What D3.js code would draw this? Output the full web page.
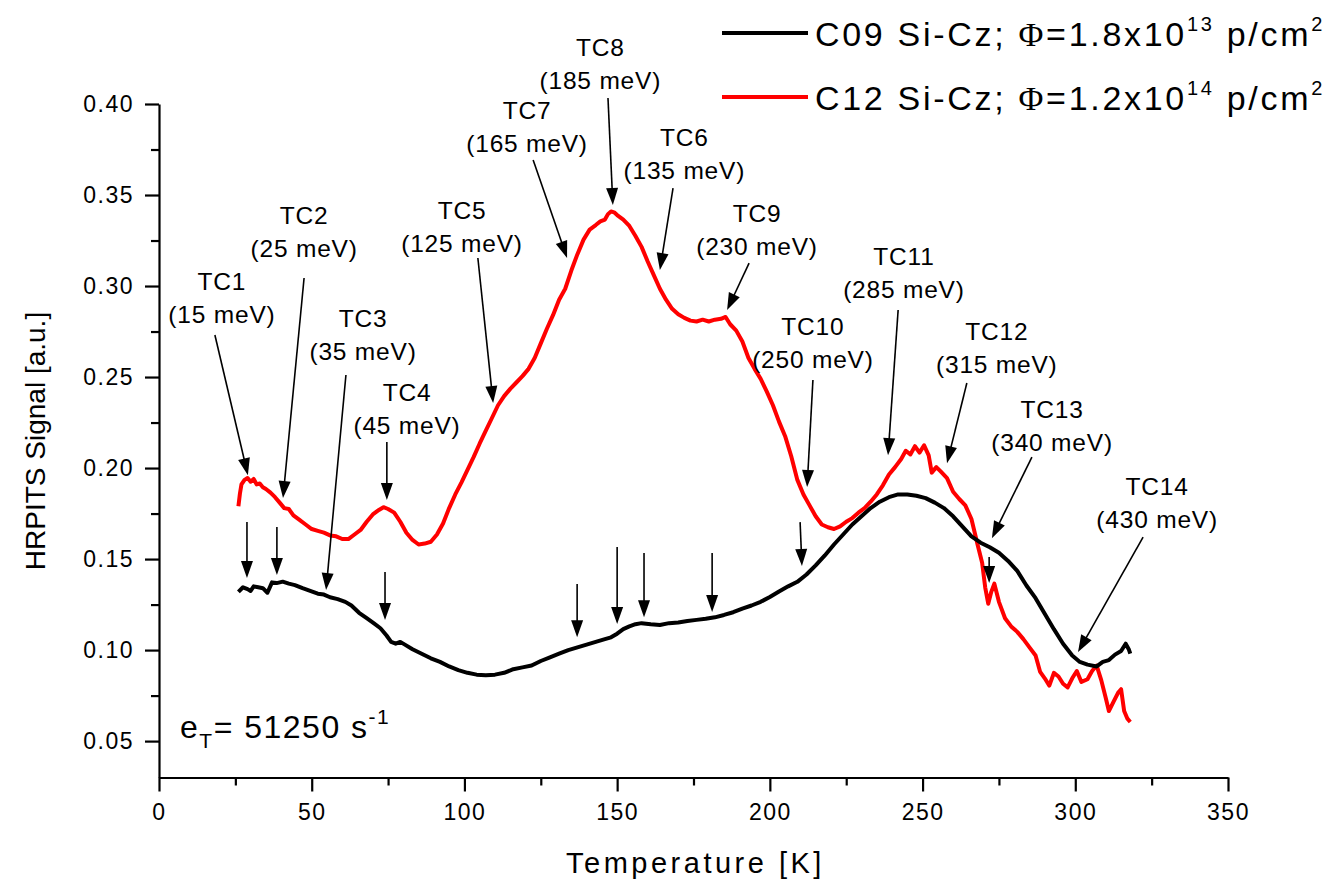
<!DOCTYPE html>
<meta charset="utf-8">
<title>HRPITS spectra</title>

<style>
body{
	margin: 0;
	background: white;
}
text{
	font-family: Arial, "Liberation Sans", sans-serif;
	fill: black;
}
</style>

<body>

<script src="https://d3js.org/d3.v7.min.js"></script>

<script>

// C09 Si-Cz, 1.8x10^13 p/cm2 (black)
var c09Temp = [26,27.5,29,30,31,32.5,34,35.5,37,38.5,40.5,42.5,44.5,47,49.5,52,54,56,58.5,61,63,65.5,68,70.5,72.5,74.5,76,77.5,79,80.5,83,86,89,92,95,98,101,104,107,110,113,116,119,122,125,128,131,134,137,140,143,146,148,150,152,154,156,158,161,164,167,170,173,176,179,182,185,188,191,194,197,200,203,206,209,212,215,218,221,224,227,230,233,236,239,242,245,248,251,254,257,260,263,266,269,272,275,278,281,284,287,290,293,296,299,301.5,304,307,309,311,313,315,316.5,317.5,318];
var c09Signal = [.132,.1345,.1335,.1325,.135,.1345,.134,.1315,.1372,.1368,.1376,.1365,.1357,.134,.1325,.131,.1305,.129,.128,.1265,.1245,.1205,.1175,.1145,.112,.108,.1045,.1035,.1045,.103,.1005,.098,.0955,.0935,.091,.089,.0875,.0865,.0862,.0865,.0875,.0895,.0905,.0915,.094,.096,.098,.1,.1015,.103,.1045,.106,.107,.109,.1115,.113,.1142,.1148,.1142,.1138,.1148,.1152,.116,.1166,.1172,.118,.1193,.1208,.1228,.1245,.1265,.1292,.1322,.135,.1375,.1415,.1465,.152,.158,.1635,.169,.1735,.178,.1815,.184,.1855,.1855,.1848,.1835,.181,.178,.1735,.168,.1625,.159,.1565,.1535,.149,.1435,.1355,.1285,.12,.1115,.1035,.097,.0935,.092,.091,.0935,.0945,.0975,.0995,.1035,.1005,.098];

// C12 Si-Cz, 1.2x10^14 p/cm2 (red)
var c12Temp = [26,26.5,27,28,29,30,31,32,33,34,35,36.5,38,39.5,41,42.5,44,46,48,50,52,54,56,58,60,62,64,66,68,70,72,73.5,75,77,79,81,83,85,87,89,91,93,95,97,99,101,103,105,107,109,111,113,115,117,119,121,123,125,127,129,131,133,135,137,139,141,143,144.5,146,147,148,149,150,152,154,156,158,160,162,164,166,168,170,172,174,176,178,180,182,184,185.5,187,189,191,193,195,197,199,201,203,205,207,209,211,213,215,217,219,221,223,225,227,229,231,233,235,237,239,241,243,244.5,246,247.5,249,250.5,252,253,254.5,256,258,260,262,264,266,268,269.5,270.5,271.5,272.5,273.5,275,277,279,281,283,285,287,288.5,290,291.5,293,294.5,296,297.5,299,300.5,302,304,305.5,307,308.5,310,311,312.5,314,315,316,317,318];
var c12Signal = [.179,.186,.191,.1935,.1945,.1925,.194,.191,.1915,.1895,.1885,.1865,.184,.181,.178,.1775,.174,.1715,.169,.1665,.1655,.1645,.163,.1625,.161,.161,.1635,.166,.1705,.1745,.177,.1785,.1775,.1755,.1705,.1645,.1605,.158,.1585,.1595,.1635,.1695,.178,.1855,.192,.199,.206,.2135,.2205,.2275,.2345,.2395,.2435,.247,.2505,.2545,.2605,.2685,.2765,.284,.2925,.2985,.3085,.3175,.3255,.331,.3335,.3355,.3365,.3395,.341,.3405,.339,.3365,.333,.3275,.3215,.3135,.306,.2985,.2925,.2875,.2845,.2825,.281,.2805,.2815,.2805,.2815,.282,.283,.279,.2755,.2695,.2605,.2545,.249,.242,.2345,.2255,.2175,.2065,.1935,.1855,.1795,.1735,.169,.1675,.1665,.168,.1705,.1725,.1755,.178,.1815,.1855,.1905,.1965,.2005,.205,.2095,.2075,.212,.2085,.2125,.207,.1975,.2005,.198,.1945,.187,.183,.1795,.172,.158,.148,.1345,.1255,.132,.1365,.1265,.1175,.113,.11,.106,.1015,.097,.088,.0845,.0805,.0875,.0855,.0815,.0795,.0845,.0885,.0825,.084,.0885,.0915,.0835,.0735,.0665,.0715,.0765,.0785,.0665,.0625,.0605];

// trap centre labels: name, activation energy, label anchor (T, signal)
var trapNames = ['TC1','TC2','TC3','TC4','TC5','TC7','TC8','TC6','TC9','TC10','TC11','TC12','TC13','TC14'];
var trapEnergies = ['(15 meV)','(25 meV)','(35 meV)','(45 meV)','(125 meV)','(165 meV)','(185 meV)','(135 meV)','(230 meV)','(250 meV)','(285 meV)','(315 meV)','(340 meV)','(430 meV)'];
var trapLabelT = [20.6,47.5,66.8,81.2,99.2,120.5,144.5,172,195.8,214.1,243.9,274.3,292.4,326.8];
var trapLabelS = [.3027,.339,.2824,.2418,.3418,.3967,.4313,.3819,.3401,.278,.3165,.2753,.2324,.1901];

// arrows: start (T, signal) -> tip (T, signal)
var arrowFromT = [18.3,47.5,61.2,74.6,104.4,122.5,147.0,168.3,193.2,214.1,242.0,264.5,285.8,322.2, 28.8,38.6,74.0,136.9,150.0,158.8,181.1,209.9,271.8];
var arrowFromS = [.2731,.3044,.2511,.2143,.3154,.3692,.4033,.3538,.3126,.2484,.2868,.2467,.206,.1621, .1703,.1676,.1429,.1363,.1566,.1533,.1533,.1703,.1511];
var arrowToT = [29.1,40.6,54.7,74.6,109.4,133.6,148.6,164.0,186.0,212.2,238.7,258.0,272.7,300.9, 28.8,38.6,74.0,136.9,150.0,158.8,181.1,210.5,271.8];
var arrowToS = [.1961,.1835,.133,.1824,.2357,.3154,.3445,.3088,.2868,.1896,.2071,.2027,.1615,.0989, .1396,.1412,.1165,.1071,.1143,.1181,.1209,.1462,.1368];

var xTicks = [0,50,100,150,200,250,300,350];
var yTicks = [0.05,0.10,0.15,0.20,0.25,0.30,0.35,0.40];

var width = 1329, height = 885;
var margin = {top: 104, right: 101, bottom: 107.5, left: 159};

var x = d3.scaleLinear().domain([0, 350]).range([margin.left, width - margin.right]);
var y = d3.scaleLinear().domain([0.03, 0.40]).range([height - margin.bottom, margin.top]);

var svg = d3.select('body')
	.append('svg')
	.attr('width', width)
	.attr('height', height);

// minor ticks first, major on top
svg.append('g')
	.attr('transform', 'translate(0,' + y(0.03) + ')')
	.call(d3.axisBottom(x).tickValues(d3.range(25, 350, 50)).tickSize(8).tickFormat(''))
	.call(function(g){ g.select('.domain').remove(); });

svg.append('g')
	.attr('transform', 'translate(' + x(0) + ',0)')
	.call(d3.axisLeft(y).tickValues(d3.range(0.075, 0.4, 0.05)).tickSize(8).tickFormat(''))
	.call(function(g){ g.select('.domain').remove(); });

var xAxis = svg.append('g')
	.attr('transform', 'translate(0,' + y(0.03) + ')')
	.call(d3.axisBottom(x).tickValues(xTicks).tickSize(14).tickSizeOuter(0).tickPadding(12).tickFormat(d3.format('d')));

var yAxis = svg.append('g')
	.attr('transform', 'translate(' + x(0) + ',0)')
	.call(d3.axisLeft(y).tickValues(yTicks).tickSize(14).tickSizeOuter(0).tickPadding(11).tickFormat(d3.format('.2f')));

svg.selectAll('.tick line, .domain')
	.attr('stroke', 'black')
	.attr('stroke-width', 2.2);

svg.selectAll('.tick text')
	.style('font-size', '23px')
	.style('letter-spacing', '1.5px')
	.style('font-family', 'Arial, "Liberation Sans", sans-serif')
	.attr('fill', 'black');

// axis titles
svg.append('text')
	.attr('x', (x(0) + x(350)) / 2 + 2)
	.attr('y', 873)
	.attr('text-anchor', 'middle')
	.style('font-size', '29px')
	.style('letter-spacing', '3.5px')
	.text('Temperature [K]');

svg.append('text')
	.attr('transform', 'translate(45,' + 441 + ') rotate(-90)')
	.attr('text-anchor', 'middle')
	.style('font-size', '28px')
	.text('HRPITS Signal [a.u.]');

// curves
var line = d3.line()
	.x(function(d){ return x(d[0]); })
	.y(function(d){ return y(d[1]); });

var c09 = d3.zip(c09Temp, c09Signal);
var c12 = d3.zip(c12Temp, c12Signal);

svg.append('path')
	.datum(c12)
	.attr('d', line)
	.attr('fill', 'none')
	.attr('stroke', '#ff0000')
	.attr('stroke-width', 4)
	.attr('stroke-linejoin', 'round');

svg.append('path')
	.datum(c09)
	.attr('d', line)
	.attr('fill', 'none')
	.attr('stroke', 'black')
	.attr('stroke-width', 4)
	.attr('stroke-linejoin', 'round');

// arrows
var headLen = 17, headHalf = 6;
var arrows = d3.range(arrowFromT.length).map(function(i){
	return {x1: x(arrowFromT[i]), y1: y(arrowFromS[i]), x2: x(arrowToT[i]), y2: y(arrowToS[i])};
});

var ga = svg.append('g').attr('id', 'arrows');
arrows.forEach(function(a){
	var dx = a.x2 - a.x1, dy = a.y2 - a.y1;
	var len = Math.sqrt(dx * dx + dy * dy);
	var ux = dx / len, uy = dy / len;
	var bx = a.x2 - ux * headLen, by = a.y2 - uy * headLen;
	ga.append('line')
		.attr('x1', a.x1).attr('y1', a.y1)
		.attr('x2', bx + ux * 2).attr('y2', by + uy * 2)
		.attr('stroke', 'black')
		.attr('stroke-width', 1.6);
	ga.append('polygon')
		.attr('points', [
			[a.x2, a.y2],
			[bx - uy * headHalf, by + ux * headHalf],
			[bx + uy * headHalf, by - ux * headHalf]
		].map(function(p){ return p.join(','); }).join(' '))
		.attr('fill', 'black');
});

// trap labels
var gl = svg.append('g').attr('id', 'labels');
trapNames.forEach(function(name, i){
	var t = gl.append('text')
		.attr('text-anchor', 'middle')
		.style('font-size', '24.5px')
		.style('letter-spacing', '0.8px');
	t.append('tspan')
		.attr('x', x(trapLabelT[i]))
		.attr('y', y(trapLabelS[i]) + 9)
		.text(name);
	t.append('tspan')
		.attr('x', x(trapLabelT[i]))
		.attr('y', y(trapLabelS[i]) + 42)
		.text(trapEnergies[i]);
});

// legend
var legendItems = [
	{color: 'black', name: 'C09 Si-Cz; ', phi: '=1.8x10', exp: '13'},
	{color: '#ff0000', name: 'C12 Si-Cz; ', phi: '=1.2x10', exp: '14'}
];

var legend = svg.append('g')
	.selectAll('g')
	.data(legendItems)
	.enter()
	.append('g')
	.attr('transform', function(d, i){ return 'translate(722,' + (33 + i * 64) + ')'; });

legend.append('line')
	.attr('x1', 0).attr('x2', 86)
	.attr('y1', 0).attr('y2', 0)
	.attr('stroke', function(d){ return d.color; })
	.attr('stroke-width', 4);

var lt = legend.append('text')
	.attr('x', 93)
	.attr('y', 13)
	.style('font-size', '34px')
	.style('letter-spacing', '2.7px');
lt.append('tspan').text(function(d){ return d.name; });
lt.append('tspan').style('font-family', '"Liberation Serif", "Times New Roman", serif').text('\u03A6');
lt.append('tspan').text(function(d){ return d.phi; });
lt.append('tspan').attr('dy', -15).style('font-size', '20px').text(function(d){ return d.exp; });
lt.append('tspan').attr('dy', 15).text(' p/cm');
lt.append('tspan').attr('dy', -15).style('font-size', '20px').text('2');

// emission rate note
var note = svg.append('text')
	.attr('x', 180)
	.attr('y', 738)
	.style('font-size', '32px')
	.style('letter-spacing', '1.5px');
note.append('tspan').text('e');
note.append('tspan').attr('dy', 10).style('font-size', '21px').text('T');
note.append('tspan').attr('dy', -10).text('= 51250 s');
note.append('tspan').attr('dy', -14).style('font-size', '21px').text('-1');

</script>
</body>
